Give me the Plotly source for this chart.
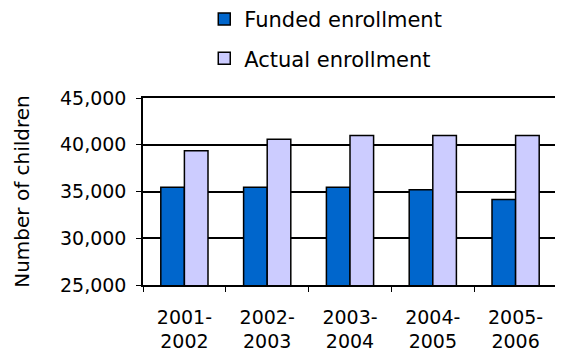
import plotly.graph_objects as go

categories = ["2001-<br>2002", "2002-<br>2003", "2003-<br>2004", "2004-<br>2005", "2005-<br>2006"]
funded = [35450, 35450, 35450, 35200, 34150]
actual = [39350, 40600, 41000, 41000, 41000]
y_ticks = [25000, 30000, 35000, 40000, 45000]
y_tick_labels = ["25,000", "30,000", "35,000", "40,000", "45,000"]

FONT = "DejaVu Sans, sans-serif"

fig = go.Figure()
fig.add_trace(go.Bar(
    x=categories, y=funded, name="Funded enrollment",
    marker=dict(color="#0066CC", line=dict(color="black", width=1.5)),
    legendgroup="a",
))
fig.add_trace(go.Bar(
    x=categories, y=actual, name="Actual enrollment",
    marker=dict(color="#CCCCFF", line=dict(color="black", width=1.5)),
    legendgroup="b",
))

# page body has an 8px margin, so the figure is shrunk and offset accordingly
fig.update_layout(
    width=555, height=346,
    margin=dict(l=135, r=6, t=90, b=69, autoexpand=False),
    paper_bgcolor="white", plot_bgcolor="white",
    barmode="group", bargap=0.43, bargroupgap=0,
    font=dict(family=FONT, size=19, color="black"),
    legend=dict(
        x=0.148, xanchor="left", y=1.53, yanchor="top",
        tracegroupgap=9, font=dict(size=21), bgcolor="rgba(0,0,0,0)",
        itemwidth=30,
    ),
    showlegend=True,
)
fig.update_xaxes(
    showline=True, linecolor="black", linewidth=1.5, mirror=True,
    ticks="outside", ticklen=5, tickcolor="black", tickson="boundaries",
    showgrid=False, tickfont=dict(size=19), automargin=False,
    ticklabelstandoff=14,
)
fig.update_yaxes(
    range=[25000, 45000], tickvals=y_ticks, ticktext=y_tick_labels,
    showline=True, linecolor="black", linewidth=1.5, mirror=True,
    ticks="outside", ticklen=5, tickcolor="black",
    showgrid=True, gridcolor="black", gridwidth=1.5,
    title=dict(text="Number of children", font=dict(size=20), standoff=25),
    tickfont=dict(size=19), zeroline=False, automargin=False,
    ticklabelstandoff=6,
)

fig.write_html("out.html")
